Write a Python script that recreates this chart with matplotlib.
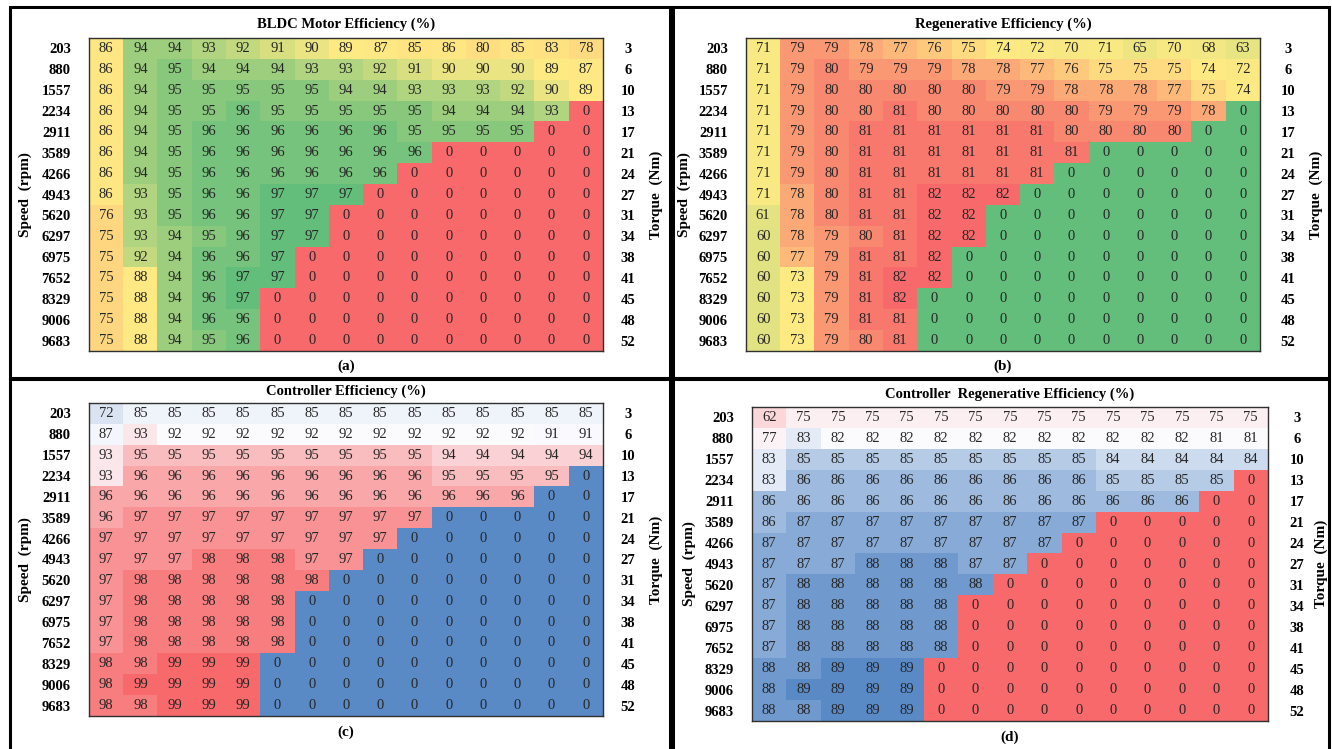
#!/usr/bin/env python3
"""
Efficiency maps of BLDC motor and controller (motoring and regenerative),
drawn as four annotated heatmaps on a speed x torque grid.

Output: out.png (1332 x 749 px)
"""

import numpy as np
import matplotlib
matplotlib.use('Agg')
import matplotlib.pyplot as plt
from matplotlib.colors import LinearSegmentedColormap, TwoSlopeNorm
from matplotlib.patches import Rectangle

plt.rcParams['font.family'] = ['Liberation Serif', 'DejaVu Serif']
plt.rcParams['font.size'] = 10.5

FIG_W, FIG_H, DPI = 1332, 749, 100

# Grid axes
speeds = [203, 880, 1557, 2234, 2911, 3589, 4266, 4943, 5620, 6297,
          6975, 7652, 8329, 9006, 9683]
torques = [3, 6, 10, 13, 17, 21, 24, 27, 31, 34, 38, 41, 45, 48, 52]

# (a) BLDC motor efficiency (%)
motor_eff = [
    [86, 94, 94, 93, 92, 91, 90, 89, 87, 85, 86, 80, 85, 83, 78],
    [86, 94, 95, 94, 94, 94, 93, 93, 92, 91, 90, 90, 90, 89, 87],
    [86, 94, 95, 95, 95, 95, 95, 94, 94, 93, 93, 93, 92, 90, 89],
    [86, 94, 95, 95, 96, 95, 95, 95, 95, 95, 94, 94, 94, 93, 0],
    [86, 94, 95, 96, 96, 96, 96, 96, 96, 95, 95, 95, 95, 0, 0],
    [86, 94, 95, 96, 96, 96, 96, 96, 96, 96, 0, 0, 0, 0, 0],
    [86, 94, 95, 96, 96, 96, 96, 96, 96, 0, 0, 0, 0, 0, 0],
    [86, 93, 95, 96, 96, 97, 97, 97, 0, 0, 0, 0, 0, 0, 0],
    [76, 93, 95, 96, 96, 97, 97, 0, 0, 0, 0, 0, 0, 0, 0],
    [75, 93, 94, 95, 96, 97, 97, 0, 0, 0, 0, 0, 0, 0, 0],
    [75, 92, 94, 96, 96, 97, 0, 0, 0, 0, 0, 0, 0, 0, 0],
    [75, 88, 94, 96, 97, 97, 0, 0, 0, 0, 0, 0, 0, 0, 0],
    [75, 88, 94, 96, 97, 0, 0, 0, 0, 0, 0, 0, 0, 0, 0],
    [75, 88, 94, 96, 96, 0, 0, 0, 0, 0, 0, 0, 0, 0, 0],
    [75, 88, 94, 95, 96, 0, 0, 0, 0, 0, 0, 0, 0, 0, 0],
]

# (b) Regenerative efficiency (%)
regen_eff = [
    [71, 79, 79, 78, 77, 76, 75, 74, 72, 70, 71, 65, 70, 68, 63],
    [71, 79, 80, 79, 79, 79, 78, 78, 77, 76, 75, 75, 75, 74, 72],
    [71, 79, 80, 80, 80, 80, 80, 79, 79, 78, 78, 78, 77, 75, 74],
    [71, 79, 80, 80, 81, 80, 80, 80, 80, 80, 79, 79, 79, 78, 0],
    [71, 79, 80, 81, 81, 81, 81, 81, 81, 80, 80, 80, 80, 0, 0],
    [71, 79, 80, 81, 81, 81, 81, 81, 81, 81, 0, 0, 0, 0, 0],
    [71, 79, 80, 81, 81, 81, 81, 81, 81, 0, 0, 0, 0, 0, 0],
    [71, 78, 80, 81, 81, 82, 82, 82, 0, 0, 0, 0, 0, 0, 0],
    [61, 78, 80, 81, 81, 82, 82, 0, 0, 0, 0, 0, 0, 0, 0],
    [60, 78, 79, 80, 81, 82, 82, 0, 0, 0, 0, 0, 0, 0, 0],
    [60, 77, 79, 81, 81, 82, 0, 0, 0, 0, 0, 0, 0, 0, 0],
    [60, 73, 79, 81, 82, 82, 0, 0, 0, 0, 0, 0, 0, 0, 0],
    [60, 73, 79, 81, 82, 0, 0, 0, 0, 0, 0, 0, 0, 0, 0],
    [60, 73, 79, 81, 81, 0, 0, 0, 0, 0, 0, 0, 0, 0, 0],
    [60, 73, 79, 80, 81, 0, 0, 0, 0, 0, 0, 0, 0, 0, 0],
]

# (c) Controller efficiency (%)
ctrl_eff = [
    [72, 85, 85, 85, 85, 85, 85, 85, 85, 85, 85, 85, 85, 85, 85],
    [87, 93, 92, 92, 92, 92, 92, 92, 92, 92, 92, 92, 92, 91, 91],
    [93, 95, 95, 95, 95, 95, 95, 95, 95, 95, 94, 94, 94, 94, 94],
    [93, 96, 96, 96, 96, 96, 96, 96, 96, 96, 95, 95, 95, 95, 0],
    [96, 96, 96, 96, 96, 96, 96, 96, 96, 96, 96, 96, 96, 0, 0],
    [96, 97, 97, 97, 97, 97, 97, 97, 97, 97, 0, 0, 0, 0, 0],
    [97, 97, 97, 97, 97, 97, 97, 97, 97, 0, 0, 0, 0, 0, 0],
    [97, 97, 97, 98, 98, 98, 97, 97, 0, 0, 0, 0, 0, 0, 0],
    [97, 98, 98, 98, 98, 98, 98, 0, 0, 0, 0, 0, 0, 0, 0],
    [97, 98, 98, 98, 98, 98, 0, 0, 0, 0, 0, 0, 0, 0, 0],
    [97, 98, 98, 98, 98, 98, 0, 0, 0, 0, 0, 0, 0, 0, 0],
    [97, 98, 98, 98, 98, 98, 0, 0, 0, 0, 0, 0, 0, 0, 0],
    [98, 98, 99, 99, 99, 0, 0, 0, 0, 0, 0, 0, 0, 0, 0],
    [98, 99, 99, 99, 99, 0, 0, 0, 0, 0, 0, 0, 0, 0, 0],
    [98, 98, 99, 99, 99, 0, 0, 0, 0, 0, 0, 0, 0, 0, 0],
]

# (d) Controller regenerative efficiency (%)
ctrl_regen_eff = [
    [62, 75, 75, 75, 75, 75, 75, 75, 75, 75, 75, 75, 75, 75, 75],
    [77, 83, 82, 82, 82, 82, 82, 82, 82, 82, 82, 82, 82, 81, 81],
    [83, 85, 85, 85, 85, 85, 85, 85, 85, 85, 84, 84, 84, 84, 84],
    [83, 86, 86, 86, 86, 86, 86, 86, 86, 86, 85, 85, 85, 85, 0],
    [86, 86, 86, 86, 86, 86, 86, 86, 86, 86, 86, 86, 86, 0, 0],
    [86, 87, 87, 87, 87, 87, 87, 87, 87, 87, 0, 0, 0, 0, 0],
    [87, 87, 87, 87, 87, 87, 87, 87, 87, 0, 0, 0, 0, 0, 0],
    [87, 87, 87, 88, 88, 88, 87, 87, 0, 0, 0, 0, 0, 0, 0],
    [87, 88, 88, 88, 88, 88, 88, 0, 0, 0, 0, 0, 0, 0, 0],
    [87, 88, 88, 88, 88, 88, 0, 0, 0, 0, 0, 0, 0, 0, 0],
    [87, 88, 88, 88, 88, 88, 0, 0, 0, 0, 0, 0, 0, 0, 0],
    [87, 88, 88, 88, 88, 88, 0, 0, 0, 0, 0, 0, 0, 0, 0],
    [88, 88, 89, 89, 89, 0, 0, 0, 0, 0, 0, 0, 0, 0, 0],
    [88, 89, 89, 89, 89, 0, 0, 0, 0, 0, 0, 0, 0, 0, 0],
    [88, 88, 89, 89, 89, 0, 0, 0, 0, 0, 0, 0, 0, 0, 0],
]

# Excel-like 3-colour scales (min -> 50th percentile -> max)
RED, YELLOW, GREEN = '#F8696B', '#FFEB84', '#63BE7B'
BLUE, WHITE = '#5A8AC6', '#FCFCFF'

PANELS = [
    dict(data=motor_eff, title='BLDC Motor Efficiency (%)', tag='(a)',
         colors=[RED, YELLOW, GREEN],
         box=(10, 7, 670, 378), heat=(89, 38, 603, 351),
         title_y=24, tag_y=366, speed_x=25, torque_x=656, rpad=18),
    dict(data=regen_eff, title='Regenerative Efficiency (%)', tag='(b)',
         colors=[GREEN, YELLOW, RED],
         box=(673, 7, 1329, 378), heat=(746, 38, 1260, 351),
         title_y=24, tag_y=366, speed_x=684, torque_x=1316, rpad=20),
    dict(data=ctrl_eff, title='Controller Efficiency (%)', tag='(c)',
         colors=[BLUE, WHITE, RED],
         box=(10, 379, 670, 760), heat=(89, 403, 603, 716),
         title_y=391, tag_y=732, speed_x=25, torque_x=656, rpad=18),
    dict(data=ctrl_regen_eff, title='Controller  Regenerative Efficiency (%)',
         tag='(d)', colors=[RED, WHITE, BLUE],
         box=(673, 379, 1329, 760), heat=(752, 407, 1268, 721),
         title_y=394, tag_y=737, speed_x=689, torque_x=1321, rpad=21),
]


def fx(x):
    return x / FIG_W


def fy(y):
    return 1 - y / FIG_H


def draw_panel(fig, p):
    """Draw one annotated heatmap with its frame and labels."""
    z = np.array(p['data'], dtype=float)
    cmap = LinearSegmentedColormap.from_list('scale', p['colors'])
    norm = TwoSlopeNorm(vmin=z.min(), vcenter=np.percentile(z, 50),
                        vmax=z.max())

    x0, y0, x1, y1 = p['heat']
    ax = fig.add_axes([fx(x0), fy(y1), fx(x1) - fx(x0), fy(y0) - fy(y1)])
    ax.imshow(z, cmap=cmap, norm=norm, aspect='auto', interpolation='nearest')

    for i in range(z.shape[0]):
        for j in range(z.shape[1]):
            ax.text(j, i, f'{int(z[i, j])}', ha='center', va='center',
                    fontsize=10.5, color='#262626')

    ax.set_xticks([])
    ax.set_yticks(range(len(speeds)))
    ax.set_yticklabels([str(s) for s in speeds], fontweight='bold')
    ax.tick_params(axis='y', length=0, pad=13)
    for sp in ax.spines.values():
        sp.set_linewidth(1.0)
        sp.set_color('#303030')

    ax2 = ax.twinx()
    ax2.set_ylim(ax.get_ylim())
    ax2.set_yticks(range(len(torques)))
    ax2.set_yticklabels([str(t) for t in torques], fontweight='bold')
    ax2.tick_params(axis='y', length=0, pad=p['rpad'])
    for lbl in ax2.get_yticklabels():
        lbl.set_ha('center')
    ax2.set_xticks([])
    for sp in ax2.spines.values():
        sp.set_visible(False)

    xc = (x0 + x1) / 2
    yc = (y0 + y1) / 2
    fig.text(fx(xc), fy(p['title_y']), p['title'], ha='center', va='center',
             fontsize=10.5, fontweight='bold')
    fig.text(fx(xc), fy(p['tag_y']), p['tag'], ha='center', va='center',
             fontsize=11, fontweight='bold')
    fig.text(fx(p['speed_x']), fy(yc), 'Speed  (rpm)', rotation=90,
             ha='center', va='center', fontsize=11, fontweight='bold')
    fig.text(fx(p['torque_x']), fy(yc), 'Torque  (Nm)', rotation=90,
             ha='center', va='center', fontsize=11, fontweight='bold')

    bx0, by0, bx1, by1 = p['box']
    fig.patches.append(Rectangle((fx(bx0), fy(by1)), fx(bx1) - fx(bx0),
                                 fy(by0) - fy(by1), transform=fig.transFigure,
                                 fill=False, edgecolor='black', linewidth=2.2))


def main():
    fig = plt.figure(figsize=(FIG_W / DPI, FIG_H / DPI), dpi=DPI)
    fig.patch.set_facecolor('white')
    for p in PANELS:
        draw_panel(fig, p)
    fig.savefig('out.png', dpi=DPI, facecolor='white')
    plt.close(fig)


if __name__ == '__main__':
    main()
